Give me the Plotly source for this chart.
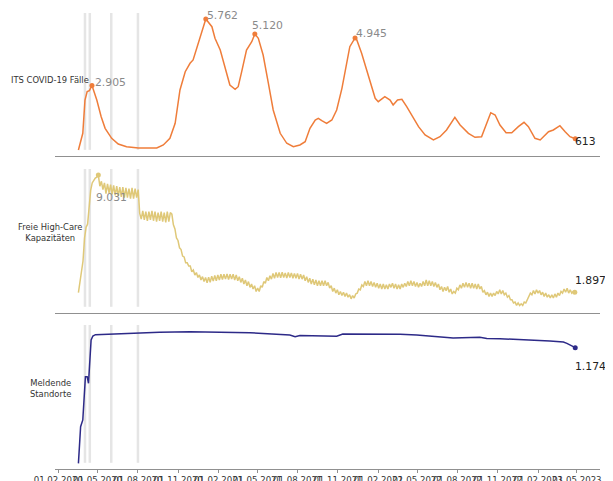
import pandas as pd
import plotly.graph_objects as go
from plotly.subplots import make_subplots

# ---------------- data ----------------
its_dates = ["2020-03-18","2020-03-28","2020-04-02","2020-04-07","2020-04-12","2020-04-18","2020-04-29","2020-05-09","2020-05-18","2020-06-02",
             "2020-06-17","2020-07-06","2020-08-02","2020-09-13","2020-09-28","2020-10-13","2020-10-25","2020-11-05","2020-11-17","2020-11-28",
             "2020-12-05","2020-12-17","2020-12-25","2021-01-03","2021-01-17","2021-01-24","2021-02-05","2021-02-16","2021-02-27","2021-03-11",
             "2021-03-18","2021-03-26","2021-04-06","2021-04-18","2021-04-25","2021-05-03","2021-05-14","2021-05-26","2021-06-06","2021-06-22",
             "2021-07-07","2021-07-22","2021-08-06","2021-08-18","2021-08-29","2021-09-10","2021-09-17","2021-09-25","2021-10-06","2021-10-18",
             "2021-10-29","2021-11-10","2021-11-21","2021-11-28","2021-12-10","2021-12-14","2021-12-25","2022-01-06","2022-01-17","2022-01-25",
             "2022-02-01","2022-02-16","2022-02-28","2022-03-07","2022-03-17","2022-03-27","2022-04-07","2022-04-18","2022-05-04","2022-05-19",
             "2022-06-07","2022-06-22","2022-07-07","2022-07-26","2022-08-07","2022-08-26","2022-09-10","2022-09-25","2022-10-07","2022-10-16",
             "2022-10-26","2022-11-06","2022-11-20","2022-12-03","2022-12-18","2022-12-31","2023-01-10","2023-01-25","2023-02-06","2023-02-25",
             "2023-03-08","2023-03-23","2023-04-04","2023-04-15","2023-04-27"]
its_vals = [133, 850, 2280, 2640, 2680, 2905, 2280, 1564, 1065, 636,
            391, 275, 215, 220, 348, 636, 1280, 2710, 3497, 3857,
            4000, 4716, 5288, 5762, 5430, 4931, 4429, 3711, 2925, 2740,
            2852, 3497, 4429, 4785, 5120, 4931, 4214, 2998, 1851, 850,
            421, 275, 348, 490, 1065, 1422, 1495, 1392, 1280, 1422,
            1851, 2783, 3926, 4570, 4945, 4858, 4287, 3497, 2783, 2354,
            2208, 2423, 2281, 2066, 2281, 2311, 1993, 1637, 1134, 777,
            563, 704, 992, 1538, 1207, 850, 679, 704, 1280, 1735,
            1637, 1207, 877, 877, 1134, 1323, 1134, 636, 563, 919,
            992, 1177, 919, 704, 613]
its_peak_dates = ["2020-04-18", "2021-01-03", "2021-04-25", "2021-12-10"]

hc_start = "2020-03-18"
hc_step = "84h"
hc_vals = [1873, 2600, 3400, 3800, 5200, 5850, 6050, 7100, 8100, 8550, 8700, 8850, 8900, 9031,
           8350, 8650, 8150, 8550, 7900, 8500, 7950, 8450, 7850, 8400, 7800, 8350, 7750, 8300, 7700, 8300,
           7650, 8250, 7650, 8200, 7600, 8250, 7600, 8200, 7650, 8150,
           6700, 6350, 6850, 6300, 6800, 6250, 6800, 6300, 6850, 6250, 6800, 6200, 6750, 6250, 6800, 6200,
           6750, 6150, 6800, 6200, 6750,
           6650, 6000, 5750, 5200, 5050, 4600, 4500, 4100, 4050, 3700, 3700, 3500, 3500, 3150, 3250, 2950,
           3100, 2800, 2950, 2650, 2850, 2550,
           2800, 2480, 2820, 2500, 2880, 2580, 2920, 2600, 2950, 2650, 3000, 2680, 3000, 2700, 3020, 2680,
           3000, 2700, 3000, 2650, 2950, 2600, 2850,
           2500, 2750, 2400, 2650, 2300, 2550, 2200, 2400, 2100, 2300, 1950, 2150,
           1950, 2300, 2200, 2550, 2450, 2800, 2600, 2900,
           2700, 3050, 2750, 3100, 2800, 3100, 2780, 3120, 2800, 3080, 2760, 3100, 2800, 3080, 2750, 3050,
           2750, 3050, 2700, 3000,
           2700, 2950, 2600, 2850, 2500, 2750, 2400, 2700, 2350, 2650, 2300,
           2600, 2300, 2600, 2300, 2600, 2300,
           2500, 2150, 2300, 1950, 2150, 1850, 2050, 1750, 1950, 1700, 1900, 1650, 1850, 1600, 1750, 1500, 1700,
           1550, 1800, 1850, 2100, 2050, 2350,
           2250, 2550, 2300, 2600, 2300, 2550, 2250, 2500, 2200, 2450,
           2150, 2400, 2100, 2400, 2100, 2350, 2100, 2400, 2200, 2450,
           2150, 2400, 2100, 2350, 2100, 2400, 2200, 2450, 2250, 2550,
           2300, 2600, 2300, 2550, 2250, 2500, 2200, 2450, 2250, 2550,
           2300, 2650, 2300, 2600, 2300, 2550, 2250, 2500, 2200,
           2400, 2050, 2250, 1950, 2200, 2000, 2250, 1900, 2100, 1800, 1950,
           1850, 2150, 2050, 2350, 2150, 2450, 2200, 2500, 2200, 2450, 2150, 2450, 2150, 2400, 2100, 2400, 2100,
           2250, 1900, 2000, 1750, 1900, 1650, 1850, 1650, 1850, 1700, 1950, 1800, 2050,
           1800, 2000, 1750, 1850, 1600, 1700, 1450, 1450, 1250, 1300, 1100, 1250, 1100, 1200,
           1100, 1300, 1250, 1450, 1550, 1850, 1750, 2000, 1800, 2050, 1850,
           2000, 1750, 1900, 1650, 1850, 1600, 1750, 1550, 1750, 1550, 1800, 1600, 1850, 1700, 1950, 1850,
           2100, 1900, 2150, 1850, 2050, 1850, 1950, 1897]

sites_dates = ["2020-03-18","2020-03-23","2020-03-28","2020-04-03","2020-04-07","2020-04-10","2020-04-16","2020-04-20","2020-04-26",
               "2020-05-28","2020-08-05","2020-09-19","2020-11-28","2021-04-14","2021-07-14","2021-07-26","2021-08-06","2021-09-05",
               "2021-10-29","2021-11-12","2022-01-06","2022-03-23","2022-04-30","2022-06-07","2022-07-22","2022-09-21","2022-10-07",
               "2022-11-06","2023-01-06","2023-01-21","2023-02-28","2023-03-31","2023-04-08","2023-04-27"]
sites_vals = [303, 579, 630, 956, 956, 906, 1232, 1262, 1272,
              1277, 1287, 1290, 1294, 1287, 1270, 1257, 1265, 1265,
              1260, 1277, 1277, 1275, 1270, 1257, 1247, 1252, 1244,
              1242, 1232, 1234, 1224, 1217, 1207, 1174]

change_dates = ["2020-04-02", "2020-04-13", "2020-06-01", "2020-08-01"]
panel_labels = ["ITS COVID-19 Fälle", "Freie High-Care<br>Kapazitäten", "Meldende<br>Standorte"]

assert len(its_dates) == len(its_vals)
assert len(sites_dates) == len(sites_vals)

hc_dates = pd.date_range(hc_start, periods=len(hc_vals), freq=hc_step)
its_dt = pd.to_datetime(its_dates)
sites_dt = pd.to_datetime(sites_dates)

# ---------------- style ----------------
C_ITS = "#EF7D3A"
C_HC = "#DFC878"
C_SITES = "#2D2A88"
C_GREY_TXT = "#8a8a8a"
C_BLACK_TXT = "#222222"
C_BAND = "#e5e5e5"
C_AXIS = "#909090"
FONT = "DejaVu Sans"
VAL_SIZE = 10.8
LBL_SIZE = 8.4


def de(v):
    return f"{int(round(v)):,}".replace(",", ".")


fig = make_subplots(rows=3, cols=1, shared_xaxes=True)

fig.add_trace(go.Scatter(x=its_dt, y=its_vals, mode="lines", line=dict(color=C_ITS, width=1.5)), row=1, col=1)
fig.add_trace(go.Scatter(x=hc_dates, y=hc_vals, mode="lines", line=dict(color=C_HC, width=1.5)), row=2, col=1)
fig.add_trace(go.Scatter(x=sites_dt, y=sites_vals, mode="lines", line=dict(color=C_SITES, width=1.5)), row=3, col=1)

# peak + end markers
its_peak_idx = [its_dates.index(d) for d in its_peak_dates]
mk_x = [its_dt[i] for i in its_peak_idx] + [its_dt[-1]]
mk_y = [its_vals[i] for i in its_peak_idx] + [its_vals[-1]]
fig.add_trace(go.Scatter(x=mk_x, y=mk_y, mode="markers", marker=dict(color=C_ITS, size=5)), row=1, col=1)

hc_peak = max(range(len(hc_vals)), key=lambda i: hc_vals[i])
fig.add_trace(go.Scatter(x=[hc_dates[hc_peak], hc_dates[-1]], y=[hc_vals[hc_peak], hc_vals[-1]],
                         mode="markers", marker=dict(color=C_HC, size=5)), row=2, col=1)
fig.add_trace(go.Scatter(x=[sites_dt[-1]], y=[sites_vals[-1]], mode="markers",
                         marker=dict(color=C_SITES, size=5)), row=3, col=1)

# value labels
ann = []
its_offsets = [(0.6, 3), (-0.7, 3.5), (-5.3, 8), (-1, 4.3)]
for i, (dx, dy) in zip(its_peak_idx, its_offsets):
    ann.append(dict(x=its_dt[i], y=its_vals[i], xref="x", yref="y", text=de(its_vals[i]),
                    xanchor="left", yanchor="middle", xshift=dx, yshift=dy,
                    font=dict(size=VAL_SIZE, color=C_GREY_TXT)))
ann.append(dict(x=its_dt[-1], y=its_vals[-1], xref="x", yref="y", text=de(its_vals[-1]),
                xanchor="left", yanchor="middle", xshift=-2, yshift=-3,
                font=dict(size=VAL_SIZE, color=C_BLACK_TXT)))
ann.append(dict(x=hc_dates[hc_peak], y=hc_vals[hc_peak], xref="x2", yref="y2", text=de(hc_vals[hc_peak]),
                xanchor="left", yanchor="middle", xshift=-4.3, yshift=-22.8,
                font=dict(size=VAL_SIZE, color=C_GREY_TXT)))
ann.append(dict(x=hc_dates[-1], y=hc_vals[-1], xref="x2", yref="y2", text=de(hc_vals[-1]),
                xanchor="left", yanchor="middle", xshift=-2, yshift=12,
                font=dict(size=VAL_SIZE, color=C_BLACK_TXT)))
ann.append(dict(x=sites_dt[-1], y=sites_vals[-1], xref="x3", yref="y3", text=de(sites_vals[-1]),
                xanchor="left", yanchor="middle", xshift=-2, yshift=-19,
                font=dict(size=VAL_SIZE, color=C_BLACK_TXT)))

# panel labels
for lbl, py in zip(panel_labels, [0.853, 0.5197, 0.1776]):
    ann.append(dict(x=-0.0083, y=py, xref="paper", yref="paper", text=lbl, xanchor="center",
                    yanchor="middle", align="center", font=dict(size=LBL_SIZE, color="#333333")))

for a in ann:
    a["showarrow"] = False

# change markers (vertical grey lines)
shapes = []
for ax in ["", "2", "3"]:
    for d in change_dates:
        shapes.append(dict(type="line", xref="x" + ax, yref=f"y{ax} domain", x0=d, x1=d, y0=0.043, y1=1,
                           line=dict(color=C_BAND, width=2.5), layer="below"))

x_range = ["2020-01-24 12:00", "2023-06-22 14:00"]

# page body adds an 8 px offset, so the figure is 8 px smaller and margins compensate
fig.update_layout(
    width=605, height=473,
    margin=dict(l=47, r=13, t=5, b=12),
    template="none",
    paper_bgcolor="white", plot_bgcolor="white",
    font=dict(family=FONT, size=LBL_SIZE, color="#333333"),
    showlegend=False,
    annotations=ann,
    shapes=shapes,
    yaxis=dict(domain=[0.6864, 1], range=[-125, 6018]),
    yaxis2=dict(domain=[0.3421, 0.6579], range=[639, 9398]),
    yaxis3=dict(domain=[0, 0.3158], range=[260.5, 1345]),
)
fig.update_yaxes(showticklabels=False, showgrid=False, zeroline=False, showline=False, ticks="", automargin=False)
fig.update_xaxes(range=x_range, showline=True, linecolor=C_AXIS, linewidth=1, showgrid=False, zeroline=False,
                 showticklabels=False, ticks="", automargin=False)
fig.update_xaxes(row=3, col=1, showticklabels=True, ticks="outside", ticklen=3, tickcolor=C_AXIS,
                 tickangle=0,
                 tick0="2020-02-01", dtick="M3", tickformat="%d.%m.%Y",
                 tickfont=dict(size=8.6, color="#333333"))

fig.write_html("out.html")
